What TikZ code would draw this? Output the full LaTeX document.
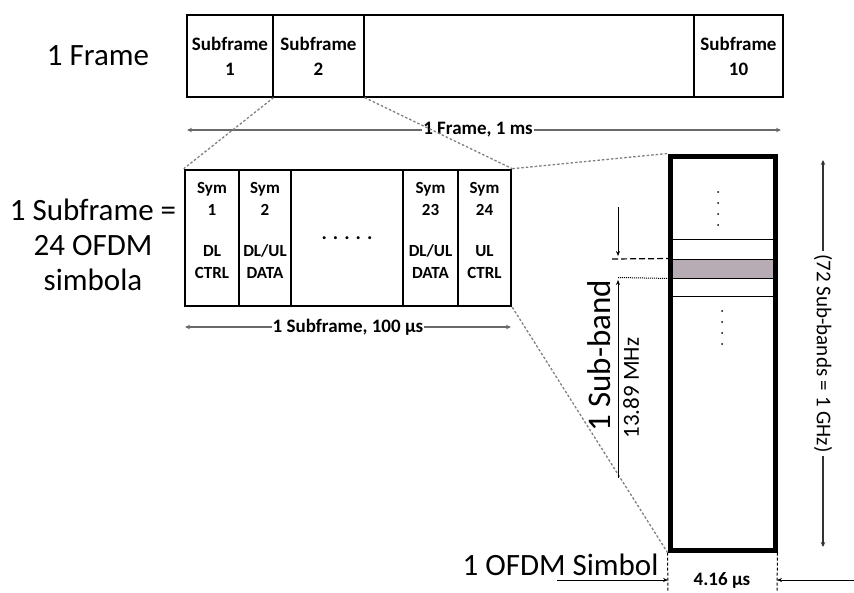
\documentclass[tikz,border=0pt]{standalone}
\usepackage{fontspec}
\setmainfont{Carlito}
\usetikzlibrary{arrows.meta, positioning, calc}
\definecolor{bandgray}{RGB}{184,172,180}
\definecolor{dimgray}{RGB}{105,105,105}

\begin{document}
\begin{tikzpicture}[x=1pt, y=-1pt,
		outer/.style={draw, line width=2.6pt, inner sep=0pt},
		cell/.style={draw, line width=1.2pt, inner sep=0pt, minimum height=82pt},
		symcell/.style={draw, line width=1.4pt, inner sep=0pt, minimum height=136pt},
		boxtxt/.style={font=\bfseries\fontsize{19}{25}\selectfont, align=center},
		symtxt/.style={font=\bfseries\fontsize{17}{22}\selectfont, align=center},
		big/.style={font=\fontsize{31}{35}\selectfont, align=center},
		dim/.style={{Stealth[length=5pt,width=4.5pt]}-{Stealth[length=5pt,width=4.5pt]}, line width=1.6pt, draw=dimgray},
		proj/.style={draw=gray, line width=1.3pt, dash pattern=on 2.5pt off 2pt},
		arr/.style={-{Stealth[length=5pt,width=4pt]}, line width=0.7pt}
		]
		\useasboundingbox (0,0) rectangle (854,592);
		
		% frame
		\node[big] (lframe) at (98,56) {1 Frame};
		\node[cell, boxtxt, minimum width=86pt] (sf1) at (230,56) {Subframe\\1};
		\node[cell, boxtxt, minimum width=91pt] (sf2) at (318.5,56) {Subframe\\2};
		\node[cell, minimum width=330pt] (sfmid) at (529,56) {};
		\node[cell, boxtxt, minimum width=89pt] (sf10) at (738.5,56) {Subframe\\10};
		\node[outer, minimum width=596pt, minimum height=82pt] (frame) at (485,56) {};
		
		\coordinate (fl) at (187,130);
		\coordinate (fr) at (781,130);
		\draw[dim] (fl) -- node[boxtxt, fill=white, inner sep=1pt, pos=0.49] (fdim) {1 Frame, 1 ms} (fr);
		
		% subframe
		\node[big] (lsub) at (93,245) {1 Subframe =\\24 OFDM\\simbola};
		\node[symcell, minimum width=54pt] (s1) at (212,238) {};
		\node[symcell, minimum width=52pt] (s2) at (265,238) {};
		\node[symcell, minimum width=112pt, font=\bfseries\fontsize{20}{20}\selectfont] (sdots) at (347,238) {.\hspace{6pt}.\hspace{6pt}.\hspace{6pt}.\hspace{6pt}.};
		\node[symcell, minimum width=55pt] (s23) at (430.5,238) {};
		\node[symcell, minimum width=53pt] (s24) at (484.5,238) {};
		\node[outer, minimum width=326pt, minimum height=136pt] (sub) at (348,238) {};
		\node[symtxt] (s1t) at (212,230) {Sym\\1\\[19pt]DL\\CTRL};
		\node[symtxt] (s2t) at (265,230) {Sym\\2\\[19pt]DL/UL\\DATA};
		\node[symtxt] (s23t) at (430.5,230) {Sym\\23\\[19pt]DL/UL\\DATA};
		\node[symtxt] (s24t) at (484.5,230) {Sym\\24\\[19pt]UL\\CTRL};
		
		\coordinate (sl) at (185,327);
		\coordinate (sr) at (511,327);
		\draw[dim] (sl) -- node[boxtxt, fill=white, inner sep=1pt] (sdim) {1 Subframe, 100 µs} (sr);
		
		% column
		\node[draw, line width=1pt, fill=bandgray, minimum width=101pt, minimum height=19pt, inner sep=0pt] (band) at (722.5,268.5) {};
		\draw[line width=1pt] (670,239) -- (775,239);
		\draw[line width=1pt] (670,296) -- (775,296);
		\foreach \y in {192,203,214,225} \fill (718,\y) circle (1pt);
		\foreach \y in {311,322,333,344} \fill (722,\y) circle (1pt);
		\node[outer, line width=5pt, minimum width=105pt, minimum height=394pt] (col) at (722.5,353) {};
		
		\draw[proj] (sf1.south east) -- (sub.north west);
		\draw[proj] (sf2.south east) -- (sub.north east);
		\draw[proj] (sub.north east) -- (col.north west);
		\draw[proj] (sub.south east) -- (col.south west);
		
		% sub-band marks
		\coordinate (mt) at (618,207);
		\coordinate (mb) at (618,256);
		\coordinate (nb) at (618,478);
		\coordinate (nt) at (618,280);
		\coordinate (dl) at (612,259);
		\coordinate (ol) at (618,277.5);
		\draw[arr] (mt) -- (mb);
		\draw[line width=1.2pt, dash pattern=on 6pt off 3pt] (dl) -- (band.north west);
		\draw[line width=1pt, densely dotted] (ol) -- (band.south west);
		\draw[arr] (nb) -- (nt);
		\node[rotate=90, font=\fontsize{33}{33}\selectfont] (subband) at (599,356) {1 Sub-band};
		\node[rotate=90, font=\fontsize{23}{23}\selectfont] (mhz) at (631,388) {13.89 MHz};
		
		% 72 sub-bands
		\coordinate (rt) at (823,160);
		\coordinate (rb) at (823,547);
		\draw[dim, draw=black!80] (rt) -- node[rotate=-90, fill=white, inner sep=3pt, font=\fontsize{21}{21}\selectfont] (ghz) {(72 Sub-bands = 1 GHz)} (rb);
		
		% symbol width
		\coordinate (tl) at (668,592);
		\coordinate (tr) at (777,592);
		\draw[line width=1pt, densely dashed] (col.south west) -- (tl);
		\draw[line width=1pt, densely dashed] (col.south east) -- (tr);
		\coordinate (al) at (557,580);
		\coordinate (ael) at (668,580);
		\coordinate (ar) at (854,580);
		\coordinate (aer) at (777,580);
		\draw[arr] (al) -- (ael);
		\draw[arr] (ar) -- (aer);
		\node[boxtxt] (usec) at (722,580) {4.16 µs};
		\node[big, anchor=east] (ofdm) at (662,565) {1 OFDM Simbol};
	\end{tikzpicture}
\end{document}
